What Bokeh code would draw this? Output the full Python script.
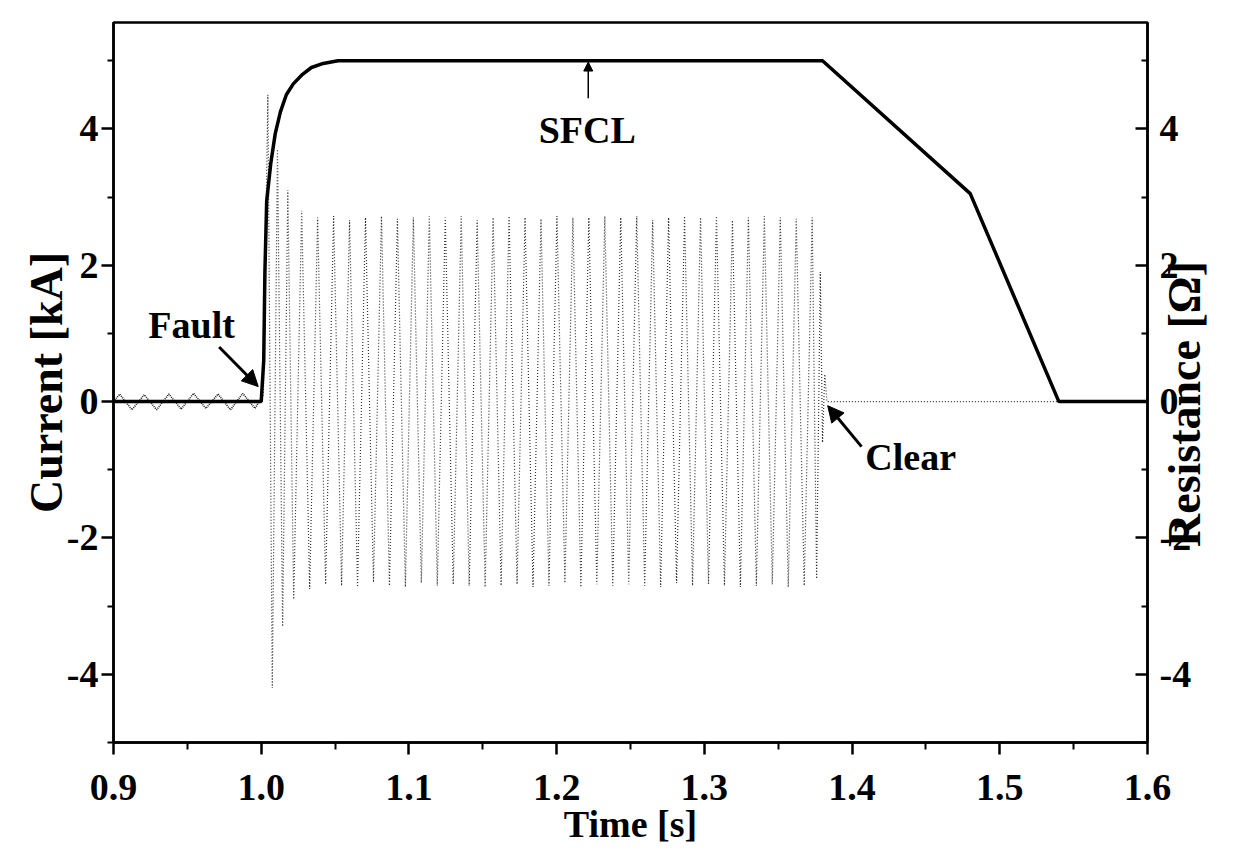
import math
from bokeh.plotting import figure
from bokeh.models import (Range1d, LinearAxis, Arrow, NormalHead, Label,
                          FixedTicker, NumeralTickFormatter)
from bokeh.embed import file_html
from bokeh.resources import INLINE

FONT = "Liberation Serif"

# ---- data ----
x_ticks = [0.9, 1.0, 1.1, 1.2, 1.3, 1.4, 1.5, 1.6]
x_minor = [0.95, 1.05, 1.15, 1.25, 1.35, 1.45, 1.55]
y_ticks = [-4, -2, 0, 2, 4]
y_minor = [-5, -3, -1, 1, 3, 5]

# SFCL resistance [ohm]
sfcl_t = [0.9, 1.0, 1.0017, 1.0025, 1.0037, 1.0065, 1.0095, 1.013, 1.017,
          1.0217, 1.028, 1.034, 1.042, 1.052, 1.38, 1.48, 1.54, 1.6]
sfcl_r = [0.0, 0.0, 0.6, 1.9, 2.94, 3.5, 3.93, 4.25, 4.5,
          4.66, 4.8, 4.9, 4.96, 5.0, 5.0, 3.05, 0.0, 0.0]

# pre-fault current [kA] (half-cycle peaks)
pre_t = [0.9, 0.9042, 0.9125, 0.9208, 0.9292, 0.9375, 0.9458, 0.9542, 0.9625,
         0.9708, 0.9792, 0.9875, 0.9958, 1.0]
pre_i = [0.0, 0.11, -0.12, 0.10, -0.12, 0.11, -0.11, 0.12, -0.10,
         0.11, -0.12, 0.12, -0.10, 0.05]

# fault current [kA] (peaks of the dotted trace)
flt_t = [1.0, 1.0015, 1.0045, 1.0075, 1.011, 1.0145, 1.018,
         1.0220, 1.0274, 1.0328, 1.0382, 1.0436, 1.0490, 1.0544, 1.0598,
         1.0652, 1.0706, 1.0760, 1.0814, 1.0868, 1.0922, 1.0976, 1.1030,
         1.1084, 1.1138, 1.1192, 1.1246, 1.1300, 1.1354, 1.1408, 1.1462,
         1.1516, 1.1570, 1.1624, 1.1678, 1.1732, 1.1786, 1.1840, 1.1894,
         1.1948, 1.2002, 1.2056, 1.2110, 1.2164, 1.2218, 1.2272, 1.2326,
         1.2380, 1.2434, 1.2488, 1.2542, 1.2596, 1.2650, 1.2704, 1.2758,
         1.2812, 1.2866, 1.2920, 1.2974, 1.3028, 1.3082, 1.3136, 1.3190,
         1.3244, 1.3298, 1.3352, 1.3406, 1.3460, 1.3514, 1.3568, 1.3622,
         1.3676, 1.3730,
         1.3760, 1.3785, 1.3800, 1.3815, 1.3830, 1.54]
flt_i = [0.05, 0.1, 4.5, -4.2, 3.7, -3.3, 3.1,
         -2.90, 2.80, -2.75, 2.70, -2.68, 2.72, -2.70, 2.66,
         -2.72, 2.70, -2.65, 2.72, -2.70, 2.68, -2.72, 2.70,
         -2.66, 2.72, -2.70, 2.70, -2.68, 2.72, -2.70, 2.66,
         -2.72, 2.70, -2.70, 2.72, -2.68, 2.70, -2.72, 2.68,
         -2.70, 2.72, -2.66, 2.70, -2.72, 2.70, -2.68, 2.72,
         -2.70, 2.70, -2.68, 2.72, -2.70, 2.66, -2.72, 2.70,
         -2.66, 2.72, -2.70, 2.70, -2.68, 2.72, -2.70, 2.66,
         -2.72, 2.70, -2.70, 2.72, -2.68, 2.70, -2.72, 2.68,
         -2.70, 2.70,
         -2.60, 1.90, -0.60, 0.40, 0.0, 0.0]

# ---- figure ----
p = figure(frame_width=1034, frame_height=720,
           x_range=Range1d(0.9, 1.6), y_range=Range1d(-5, 5.56),
           output_backend="svg", toolbar_location=None,
           min_border_left=113, min_border_right=95,
           min_border_top=22, min_border_bottom=100)
p.extra_y_ranges = {"r": Range1d(-5, 5.56)}
p.xgrid.visible = False
p.ygrid.visible = False
p.outline_line_color = "black"
p.outline_line_width = 2.5
p.background_fill_color = "white"
p.border_fill_color = "white"


def style_axis(ax, size="38px"):
    ax.axis_line_width = 2.5
    ax.major_tick_line_width = 2.5
    ax.minor_tick_line_width = 2
    ax.major_label_text_font = FONT
    ax.major_label_text_font_style = "bold"
    ax.major_label_text_font_size = size
    ax.major_label_text_color = "black"
    ax.axis_label_text_font = FONT
    ax.axis_label_text_font_style = "bold"
    ax.axis_label_text_color = "black"


# x axis
xa = p.xaxis[0]
style_axis(xa)
xa.ticker = FixedTicker(ticks=x_ticks, minor_ticks=x_minor)
xa.formatter = NumeralTickFormatter(format="0.0")
xa.major_tick_out = 12
xa.major_tick_in = 0
xa.minor_tick_out = 7
xa.minor_tick_in = 0
xa.major_label_standoff = 20
xa.axis_label = "Time [s]"
xa.axis_label_text_font_size = "38px"
xa.axis_label_standoff = 0

# left y axis
ya = p.yaxis[0]
style_axis(ya)
ya.ticker = FixedTicker(ticks=y_ticks, minor_ticks=y_minor)
ya.formatter = NumeralTickFormatter(format="0")
ya.major_tick_out = 12
ya.major_tick_in = 0
ya.minor_tick_out = 6
ya.minor_tick_in = 0
ya.major_label_standoff = 3
ya.axis_label = "Current [kA]"
ya.axis_label_text_font_size = "46px"
ya.axis_label_standoff = -8

# right y axis (ticks and numbers)
ra = LinearAxis(y_range_name="r")
style_axis(ra)
ra.ticker = FixedTicker(ticks=y_ticks, minor_ticks=y_minor)
ra.formatter = NumeralTickFormatter(format="0")
ra.major_tick_out = 0
ra.major_tick_in = 12
ra.minor_tick_out = 0
ra.minor_tick_in = 6
ra.major_label_standoff = 12
p.add_layout(ra, "right")

# right axis title on a separate, tick-less axis (reads bottom to top)
rt = LinearAxis(y_range_name="r")
style_axis(rt)
rt.ticker = FixedTicker(ticks=[], minor_ticks=[])
rt.axis_line_color = None
rt.major_tick_line_color = None
rt.minor_tick_line_color = None
rt.major_tick_in = 0
rt.major_tick_out = 0
rt.minor_tick_in = 0
rt.minor_tick_out = 0
rt.axis_label_text_font_size = "46px"
rt.axis_label_standoff = -10
title_text = "Resistance [\u03a9]"
if "axis_label_orientation" in rt.properties():
    rt.axis_label_orientation = math.pi / 2
    if "axis_label_align" in rt.properties():
        rt.axis_label_align = "start"
        title_text = "\u2003\u2003\u2003\u2003\u00a0" + title_text
rt.axis_label = title_text
p.add_layout(rt, "right")

# ---- data lines ----
p.line(pre_t, pre_i, line_color="#222222", line_width=1.6, line_dash="1 1")
p.line(flt_t, flt_i, line_color="#333333", line_width=1.2, line_dash="1 2")
p.line(sfcl_t, sfcl_r, y_range_name="r", line_color="black", line_width=3.5)

# ---- annotations ----
def txt(x, y, s, size="38px"):
    p.add_layout(Label(x=x, y=y, text=s, text_font=FONT, text_font_style="bold",
                       text_font_size=size, text_color="black",
                       text_align="center", text_baseline="middle"))

txt(1.2207, 3.98, "SFCL")
txt(0.9529, 1.13, "Fault")
txt(1.4397, -0.81, "Clear")

p.add_layout(Arrow(end=NormalHead(size=9, fill_color="black", line_color="black"),
                   x_start=1.2214, y_start=4.45, x_end=1.2214, y_end=4.98,
                   line_width=1.5, line_color="black"))
p.add_layout(Arrow(end=NormalHead(size=16, fill_color="black", line_color="black"),
                   x_start=0.9715, y_start=0.8, x_end=0.998, y_end=0.22,
                   line_width=3, line_color="black"))
p.add_layout(Arrow(end=NormalHead(size=16, fill_color="black", line_color="black"),
                   x_start=1.4064, y_start=-0.66, x_end=1.3835, y_end=-0.06,
                   line_width=3, line_color="black"))

open("out.html", "w").write(file_html(p, INLINE))
